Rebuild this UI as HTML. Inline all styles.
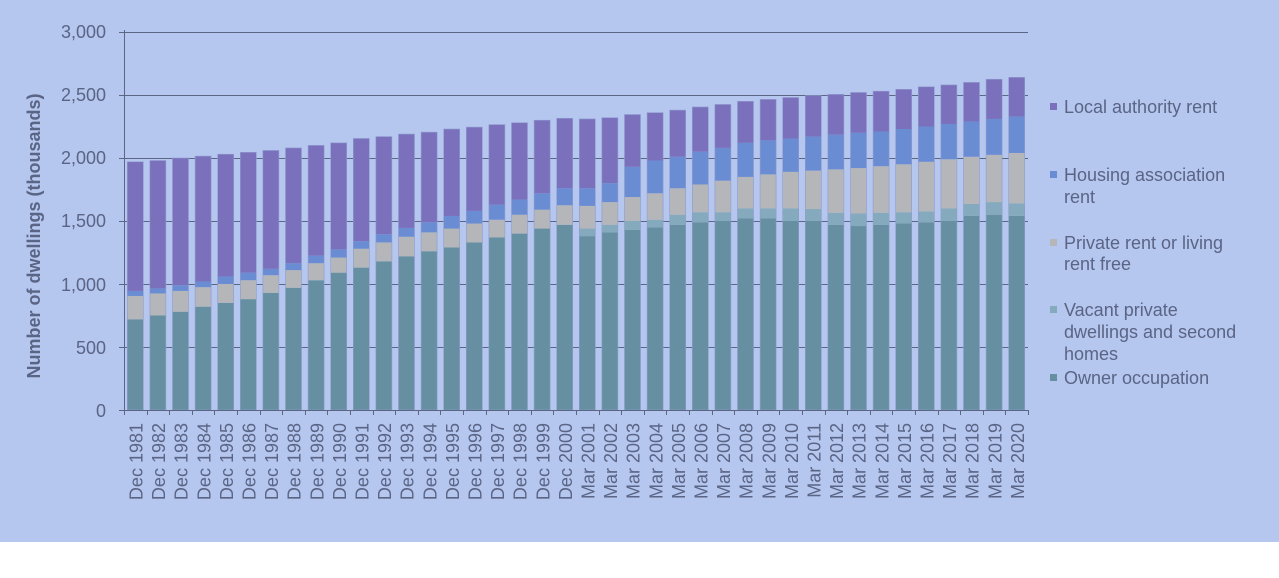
<!DOCTYPE html>
<html><head><meta charset="utf-8"><style>
html,body{margin:0;padding:0;background:#fff;}
svg{display:block;font-family:"Liberation Sans",sans-serif;}
</style></head><body>
<svg id="c" width="1279" height="578" xmlns="http://www.w3.org/2000/svg">
<rect x="0" y="0" width="1279" height="542" fill="#b5c6ef"/>
<g id="grid" stroke="#5b6584" stroke-width="1"></g>
<g id="bars"></g>
<g id="axis" stroke="#5b6584" stroke-width="1"></g>
<g fill="#5a6485" font-size="18" text-anchor="end">
<text x="106" y="417">0</text>
<text x="106" y="354">500</text>
<text x="106" y="291">1,000</text>
<text x="106" y="227">1,500</text>
<text x="106" y="164">2,000</text>
<text x="106" y="101">2,500</text>
<text x="106" y="38">3,000</text>
</g>
<text transform="translate(40,236) rotate(-90)" text-anchor="middle" fill="#5a6485" font-size="18" font-weight="bold">Number of dwellings (thousands)</text>
<g font-size="18" fill="#5a6485">
<rect x="1050" y="103" width="7" height="7" fill="#7b70bb"/>
<text x="1064" y="113">Local authority rent</text>
<rect x="1050" y="171" width="7" height="7" fill="#6a8cd2"/>
<text x="1064" y="181">Housing association</text>
<text x="1064" y="203">rent</text>
<rect x="1050" y="239" width="7" height="7" fill="#b4b6b9"/>
<text x="1064" y="249">Private rent or living</text>
<text x="1064" y="270">rent free</text>
<rect x="1050" y="306" width="7" height="7" fill="#86aabd"/>
<text x="1064" y="316">Vacant private</text>
<text x="1064" y="338">dwellings and second</text>
<text x="1064" y="360">homes</text>
<rect x="1050" y="374" width="7" height="7" fill="#6690a2"/>
<text x="1064" y="384">Owner occupation</text>
</g>
<g fill="#5a6485" font-size="18" text-anchor="end">
<text transform="translate(142.5,423) rotate(-90)">Dec 1981</text>
<text transform="translate(165.1,423) rotate(-90)">Dec 1982</text>
<text transform="translate(187.7,423) rotate(-90)">Dec 1983</text>
<text transform="translate(210.3,423) rotate(-90)">Dec 1984</text>
<text transform="translate(232.9,423) rotate(-90)">Dec 1985</text>
<text transform="translate(255.5,423) rotate(-90)">Dec 1986</text>
<text transform="translate(278.1,423) rotate(-90)">Dec 1987</text>
<text transform="translate(300.7,423) rotate(-90)">Dec 1988</text>
<text transform="translate(323.3,423) rotate(-90)">Dec 1989</text>
<text transform="translate(345.9,423) rotate(-90)">Dec 1990</text>
<text transform="translate(368.5,423) rotate(-90)">Dec 1991</text>
<text transform="translate(391.1,423) rotate(-90)">Dec 1992</text>
<text transform="translate(413.7,423) rotate(-90)">Dec 1993</text>
<text transform="translate(436.3,423) rotate(-90)">Dec 1994</text>
<text transform="translate(458.9,423) rotate(-90)">Dec 1995</text>
<text transform="translate(481.5,423) rotate(-90)">Dec 1996</text>
<text transform="translate(504.1,423) rotate(-90)">Dec 1997</text>
<text transform="translate(526.7,423) rotate(-90)">Dec 1998</text>
<text transform="translate(549.3,423) rotate(-90)">Dec 1999</text>
<text transform="translate(571.9,423) rotate(-90)">Dec 2000</text>
<text transform="translate(594.5,423) rotate(-90)">Mar 2001</text>
<text transform="translate(617.1,423) rotate(-90)">Mar 2002</text>
<text transform="translate(639.7,423) rotate(-90)">Mar 2003</text>
<text transform="translate(662.3,423) rotate(-90)">Mar 2004</text>
<text transform="translate(684.9,423) rotate(-90)">Mar 2005</text>
<text transform="translate(707.5,423) rotate(-90)">Mar 2006</text>
<text transform="translate(730.1,423) rotate(-90)">Mar 2007</text>
<text transform="translate(752.7,423) rotate(-90)">Mar 2008</text>
<text transform="translate(775.3,423) rotate(-90)">Mar 2009</text>
<text transform="translate(797.9,423) rotate(-90)">Mar 2010</text>
<text transform="translate(820.5,423) rotate(-90)">Mar 2011</text>
<text transform="translate(843.1,423) rotate(-90)">Mar 2012</text>
<text transform="translate(865.7,423) rotate(-90)">Mar 2013</text>
<text transform="translate(888.3,423) rotate(-90)">Mar 2014</text>
<text transform="translate(910.9,423) rotate(-90)">Mar 2015</text>
<text transform="translate(933.5,423) rotate(-90)">Mar 2016</text>
<text transform="translate(956.1,423) rotate(-90)">Mar 2017</text>
<text transform="translate(978.7,423) rotate(-90)">Mar 2018</text>
<text transform="translate(1001.3,423) rotate(-90)">Mar 2019</text>
<text transform="translate(1023.9,423) rotate(-90)">Mar 2020</text>
</g>
</svg>
<script>
var NS="http://www.w3.org/2000/svg";
function el(p,t,a){var e=document.createElementNS(NS,t);for(var k in a)e.setAttribute(k,a[k]);p.appendChild(e);return e;}
var X0=124,STEP=22.6,Y0=410,K=378/3000;
function y(v){return Y0-v*K;}
var g=document.getElementById('grid');
for(var i=1;i<=6;i++){var yy=Math.round(y(i*500))+0.5;el(g,'line',{x1:X0,x2:1028,y1:yy,y2:yy});}
var ax=document.getElementById('axis');
el(ax,'line',{x1:X0+0.5,x2:X0+0.5,y1:30,y2:Y0+5});
el(ax,'line',{x1:X0,x2:1028,y1:Y0+0.5,y2:Y0+0.5});
for(var i=0;i<=6;i++){var yy=Math.round(y(i*500))+0.5;el(ax,'line',{x1:X0-5,x2:X0,y1:yy,y2:yy});}
for(var i=0;i<=40;i++){var xx=Math.round(X0+i*STEP)+0.5;el(ax,'line',{x1:xx,x2:xx,y1:Y0,y2:Y0+5});}
var owner=[720,750,780,820,850,880,930,970,1030,1090,1130,1180,1220,1260,1290,1330,1370,1400,1440,1470,1380,1410,1430,1450,1470,1490,1500,1520,1520,1500,1500,1470,1460,1470,1480,1490,1500,1540,1550,1540];
var vac=[0,0,0,0,0,0,0,0,0,0,0,0,0,0,0,0,0,0,0,0,1440,1470,1500,1510,1550,1570,1570,1600,1600,1600,1595,1565,1560,1565,1570,1575,1600,1635,1650,1640];
var priv=[905,925,945,975,1000,1030,1070,1110,1165,1210,1280,1330,1375,1410,1440,1480,1510,1550,1590,1625,1620,1650,1690,1720,1760,1790,1820,1850,1870,1890,1900,1910,1920,1935,1950,1970,1990,2010,2025,2040];
var ha=[945,965,990,1020,1060,1090,1120,1165,1225,1275,1340,1395,1445,1490,1540,1580,1630,1670,1720,1760,1760,1800,1930,1980,2010,2050,2080,2120,2140,2155,2170,2185,2200,2210,2230,2250,2270,2290,2310,2330];
var tot=[1970,1980,2000,2015,2030,2045,2060,2080,2100,2120,2155,2170,2190,2205,2230,2245,2265,2280,2300,2315,2310,2320,2345,2360,2380,2405,2425,2450,2465,2480,2495,2505,2520,2530,2545,2565,2580,2600,2625,2640];
var b=document.getElementById('bars');
for(var i=0;i<40;i++){
 var x=X0+i*STEP+3.3,w=16;
 var v=Math.max(vac[i],owner[i]);
 var segs=[[0,owner[i],'#6690a2'],[owner[i],v,'#86aabd'],[v,priv[i],'#b4b6b9'],[priv[i],ha[i],'#6a8cd2'],[ha[i],tot[i],'#7b70bb']];
 segs.forEach(function(s){if(s[1]>s[0])el(b,'rect',{x:x,y:y(s[1]),width:w,height:(s[1]-s[0])*K,fill:s[2]});});
 el(b,'rect',{x:x,y:y(tot[i]),width:w,height:tot[i]*K,fill:'none',stroke:'#8f9bd0','stroke-width':0.6});
}
</script>
</body></html>
